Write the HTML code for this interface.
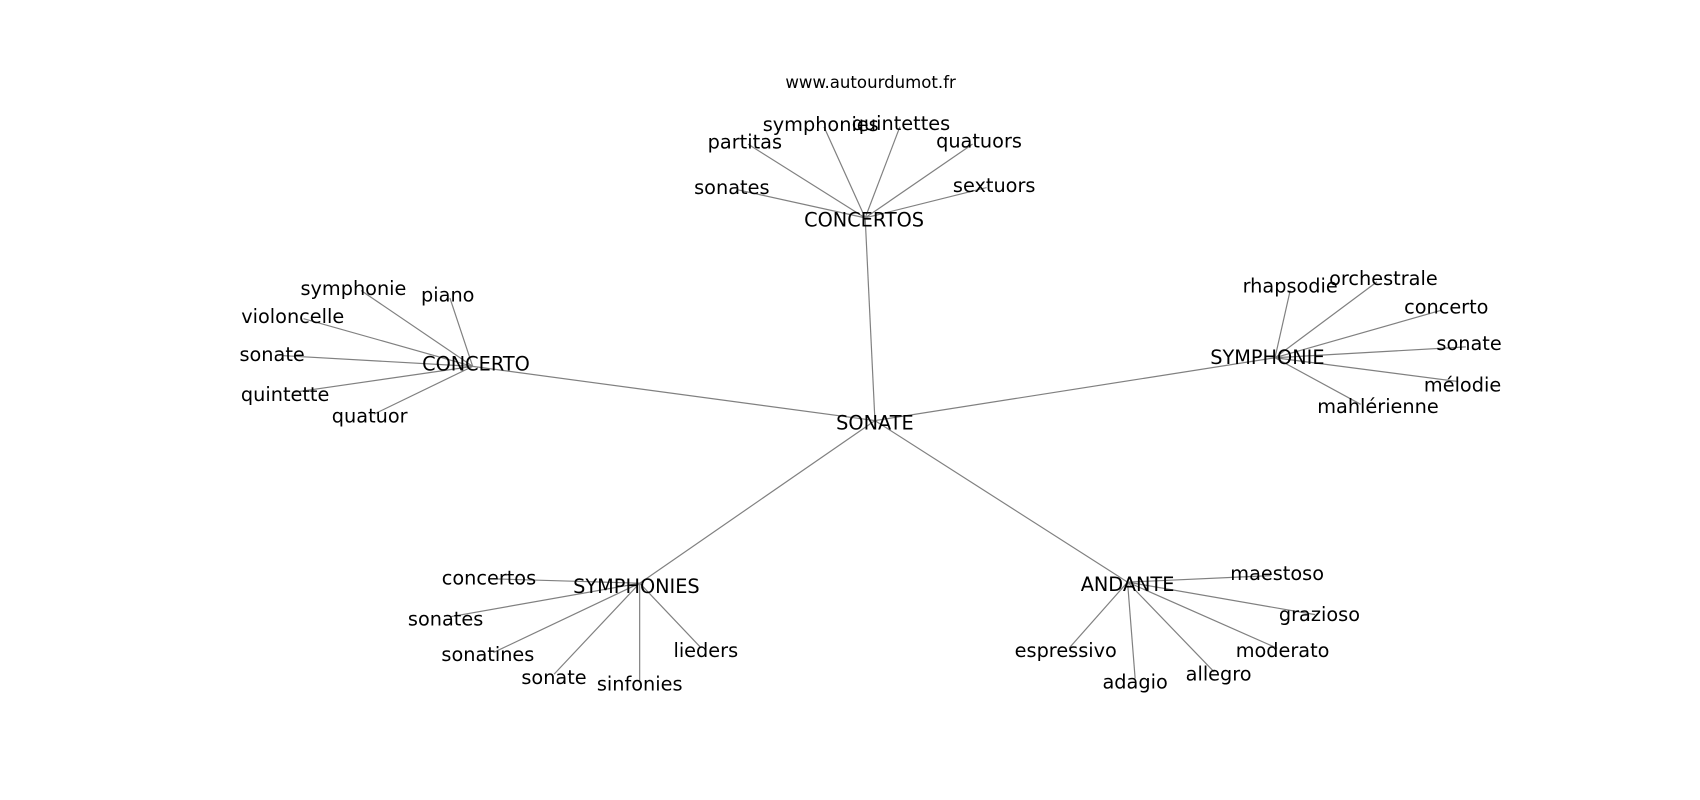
<!DOCTYPE html>
<html><head><meta charset="utf-8"><style>
html,body{margin:0;padding:0;background:#fff;}
svg{display:block}
text{font-family:"DejaVu Sans","Liberation Sans",sans-serif;font-size:17.8px;fill:#000;text-anchor:middle;dominant-baseline:central}
</style></head><body>
<svg width="1700" height="800" viewBox="0 0 1568 738" preserveAspectRatio="none" xmlns="http://www.w3.org/2000/svg">
<g stroke="#808080" stroke-width="1.1">
<line x1="807" y1="388" x2="798" y2="201"/>
<line x1="807" y1="388" x2="436" y2="338"/>
<line x1="807" y1="388" x2="1176" y2="330"/>
<line x1="807" y1="388" x2="590" y2="538"/>
<line x1="807" y1="388" x2="1040" y2="537"/>

<line x1="798" y1="201" x2="680" y2="175"/>
<line x1="798" y1="201" x2="690" y2="133"/>
<line x1="798" y1="201" x2="760" y2="117"/>
<line x1="798" y1="201" x2="830" y2="117"/>
<line x1="798" y1="201" x2="897" y2="133"/>
<line x1="798" y1="201" x2="910" y2="173"/>

<line x1="436" y1="338" x2="333" y2="268"/>
<line x1="436" y1="338" x2="415" y2="275"/>
<line x1="436" y1="338" x2="280" y2="294"/>
<line x1="436" y1="338" x2="260" y2="328"/>
<line x1="436" y1="338" x2="270" y2="362"/>
<line x1="436" y1="338" x2="345" y2="382"/>

<line x1="1176" y1="330" x2="1190" y2="268"/>
<line x1="1176" y1="330" x2="1270" y2="260"/>
<line x1="1176" y1="330" x2="1330" y2="286"/>
<line x1="1176" y1="330" x2="1352" y2="320"/>
<line x1="1176" y1="330" x2="1345" y2="352"/>
<line x1="1176" y1="330" x2="1255" y2="373"/>

<line x1="590" y1="538" x2="455" y2="534"/>
<line x1="590" y1="538" x2="415" y2="569"/>
<line x1="590" y1="538" x2="455" y2="602"/>
<line x1="590" y1="538" x2="511" y2="622"/>
<line x1="590" y1="538" x2="590" y2="628"/>
<line x1="590" y1="538" x2="646" y2="597"/>

<line x1="1040" y1="537" x2="1172" y2="531"/>
<line x1="1040" y1="537" x2="1213" y2="567"/>
<line x1="1040" y1="537" x2="1178" y2="598"/>
<line x1="1040" y1="537" x2="1120" y2="620"/>
<line x1="1040" y1="537" x2="1047" y2="626"/>
<line x1="1040" y1="537" x2="986" y2="598"/>
</g>
<text x="803" y="76" style="font-size:15.3px">www.autourdumot.fr</text>

<text x="807" y="390">SONATE</text>
<text x="797" y="203">CONCERTOS</text>
<text x="675" y="173">sonates</text>
<text x="687" y="131">partitas</text>
<text x="757" y="115">symphonies</text>
<text x="831" y="114">quintettes</text>
<text x="903" y="130">quatuors</text>
<text x="917" y="171">sextuors</text>

<text x="439" y="336">CONCERTO</text>
<text x="326" y="266">symphonie</text>
<text x="413" y="272">piano</text>
<text x="270" y="292">violoncelle</text>
<text x="251" y="327">sonate</text>
<text x="263" y="364">quintette</text>
<text x="341" y="384">quatuor</text>

<text x="1169" y="330">SYMPHONIE</text>
<text x="1190" y="264">rhapsodie</text>
<text x="1276" y="257">orchestrale</text>
<text x="1334" y="283">concerto</text>
<text x="1355" y="317">sonate</text>
<text x="1349" y="355">mélodie</text>
<text x="1271" y="375">mahlérienne</text>

<text x="587" y="541">SYMPHONIES</text>
<text x="451" y="533">concertos</text>
<text x="411" y="571">sonates</text>
<text x="450" y="604">sonatines</text>
<text x="511" y="625">sonate</text>
<text x="590" y="631">sinfonies</text>
<text x="651" y="600">lieders</text>

<text x="1040" y="539">ANDANTE</text>
<text x="1178" y="529">maestoso</text>
<text x="1217" y="567">grazioso</text>
<text x="1183" y="600">moderato</text>
<text x="1124" y="622">allegro</text>
<text x="1047" y="629">adagio</text>
<text x="983" y="600">espressivo</text>
</svg>
</body></html>
